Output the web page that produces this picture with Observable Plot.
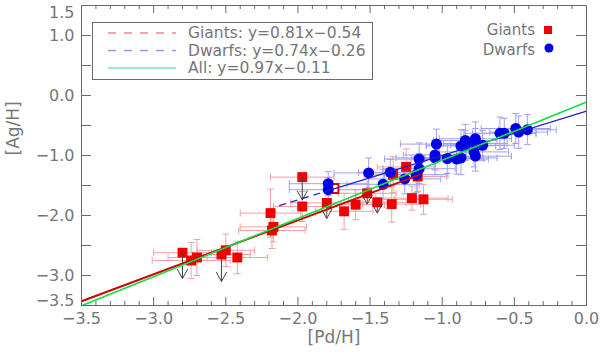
<!DOCTYPE html>
<html><head><meta charset="utf-8">
<script src="https://cdn.jsdelivr.net/npm/d3@7"></script>
<script src="https://cdn.jsdelivr.net/npm/@observablehq/plot@0.6"></script>
<style>
html,body{margin:0;padding:0;background:#fff;}
#chart{width:600px;height:354px;}
</style>
</head><body><div id="chart"></div>
<script>
// ---- Data ----
const giantX = [-1.97,-1.97,-2.19,-2.17,-2.18,-2.80,-2.74,-2.70,-2.53,-2.50,-2.42,-1.80,-1.68,-1.60,-1.52,-1.45,-1.35,-1.34,-1.25,-1.21,-1.13,-1.17];
const giantY = [-1.36,-1.85,-1.96,-2.19,-2.25,-2.62,-2.75,-2.70,-2.65,-2.58,-2.70,-1.79,-1.93,-1.82,-1.63,-1.78,-1.81,-1.32,-1.19,-1.71,-1.73,-1.35];
const giantXErr = [0.22,0.20,0.21,0.23,0.23,0.20,0.27,0.20,0.20,0.20,0.21,0.25,0.20,0.20,0.20,0.20,0.20,0.20,0.20,0.25,0.20,0.20];
const giantYErr = [0,0.25,0.40,0.25,0.30,0,0.30,0.30,0,0.27,0.27,0,0.30,0.25,0,0,0.30,0.30,0.30,0.20,0.25,0.25];
const giantUpperLimit = [0.38,0,0,0,0,0.43,0,0,0.45,0,0,0.26,0,0,0.18,0.18,0,0,0,0,0,0];

const openGiantX = [-1.75];
const openGiantY = [-1.55];

const dwarfX = [-1.79,-1.79,-1.51,-1.41,-1.36,-1.26,-1.18,-1.16,-1.16,-1.04,-1.05,-1.05,-0.965,-0.90,-0.87,-0.87,-0.84,-0.84,-0.77,-0.77,-0.78,-0.77,-0.72,-0.60,-0.57,-0.49,-0.47,-0.41];
const dwarfY = [-1.47,-1.57,-1.29,-1.48,-1.28,-1.39,-1.32,-1.22,-1.06,-0.81,-0.99,-1.04,-1.05,-1.06,-1.04,-0.84,-0.75,-0.83,-0.72,-0.80,-0.94,-1.01,-0.83,-0.63,-0.63,-0.55,-0.61,-0.57];
const dwarfXErr = [0.27,0.27,0.24,0.25,0.22,0.25,0.22,0.25,0.24,0.25,0.22,0.27,0.25,0.22,0.25,0.24,0.22,0.27,0.25,0.22,0.24,0.25,0.22,0.25,0.22,0.24,0.20,0.20];
const dwarfYErr = [0.20,0.20,0.25,0.25,0.22,0.25,0.30,0.25,0.27,0.25,0.25,0.28,0.25,0.25,0.28,0.27,0.27,0.25,0.28,0.25,0.25,0.25,0.25,0.27,0.25,0.25,0.27,0.25];

// Fit lines as drawn
const fitName = ["Giants","Dwarfs","Dwarfs","All"];
const fitSlope = [0.90, 0.74, 0.74, 0.97];
const fitIntercept = [-0.28, -0.26, -0.26, -0.11];
const fitFrom = [-3.5, -2.13, -1.79, -3.5];
const fitTo = [-1.15, -1.79, 0.0, 0.0];
const fitDashed = [false, true, false, false];

const legendLabels = ["Giants: y=0.81x\u22120.54", "Dwarfs: y=0.74x\u22120.26", "All: y=0.97x\u22120.11"];
const seriesLabels = ["Giants", "Dwarfs"];

const xTickLabels = [-3.5,-3.0,-2.5,-2.0,-1.5,-1.0,-0.5,0.0];
const yTickLabels = [1.0,0.0,-1.0,-2.0,-3.0];
const yEndLabels = [1.5,-3.5];
const yTicks = [1.0,0.5,0.0,-0.5,-1.0,-1.5,-2.0,-2.5,-3.0];
const xMinor = d3.range(-34, 0).map(i => i/10).filter(v => Math.abs(v*2 - Math.round(v*2)) > 1e-6);

// ---- Build tables ----
const giants = giantX.map((x,i) => ({x, y: giantY[i], xe: giantXErr[i], ye: giantYErr[i], lim: giantUpperLimit[i]}));
const dwarfs = dwarfX.map((x,i) => ({x, y: dwarfY[i], xe: dwarfXErr[i], ye: dwarfYErr[i]}));
const opens = openGiantX.map((x,i) => ({x, y: openGiantY[i]}));
const fits = fitName.map((n,i) => ({n, x1: fitFrom[i], x2: fitTo[i], y1: fitSlope[i]*fitFrom[i]+fitIntercept[i], y2: fitSlope[i]*fitTo[i]+fitIntercept[i], dashed: fitDashed[i]}));
const limits = giants.filter(d => d.lim > 0);
const gV = giants.filter(d => d.ye > 0);
const fmt = d3.format(".1f");

const W = 600, H = 354, mT = 5, mR = 14, mB = 49, mL = 81;
const pw = W - mL - mR, ph = H - mT - mB;
const txt = "#767676", axisCol = "#6a6a6a";
const capShape = {draw(ctx, l) { ctx.moveTo(0, 0); ctx.lineTo(0, -l); }};
const vHead = {draw(ctx) { ctx.moveTo(-5, -9); ctx.lineTo(0, 0); ctx.lineTo(5, -9); }};

function bars(data, vdata, color) {
  return [
    Plot.link(data, {x1: d => d.x - d.xe, x2: d => d.x + d.xe, y1: "y", y2: "y", stroke: color, strokeWidth: 1}),
    Plot.vector(data, {x: d => d.x - d.xe, y: "y", length: 6, rotate: 0, anchor: "middle", shape: capShape, stroke: color, strokeWidth: 1}),
    Plot.vector(data, {x: d => d.x + d.xe, y: "y", length: 6, rotate: 0, anchor: "middle", shape: capShape, stroke: color, strokeWidth: 1}),
    Plot.link(vdata, {x1: "x", x2: "x", y1: d => d.y - d.ye, y2: d => d.y + d.ye, stroke: color, strokeWidth: 1}),
    Plot.vector(vdata, {x: "x", y: d => d.y - d.ye, length: 6, rotate: 90, anchor: "middle", shape: capShape, stroke: color, strokeWidth: 1}),
    Plot.vector(vdata, {x: "x", y: d => d.y + d.ye, length: 6, rotate: 90, anchor: "middle", shape: capShape, stroke: color, strokeWidth: 1})
  ];
}

const chart = Plot.plot({
  width: W, height: H,
  marginTop: mT, marginRight: mR, marginBottom: mB, marginLeft: mL,
  style: {fontFamily: "DejaVu Sans, sans-serif", background: "#fff"},
  x: {domain: [-3.5, 0], axis: null},
  y: {domain: [-3.5, 1.5], axis: null},
  marks: [
    ...bars(giants, gV, "#f4a0a0"),
    ...bars(dwarfs, dwarfs, "#a0a0f2"),
    Plot.dot(giants, {x: "x", y: "y", symbol: "square", r: 5.6, fill: "#f20000"}),
    Plot.dot(opens, {x: "x", y: "y", symbol: "square", r: 5, fill: "#fff", stroke: "#e00000", strokeWidth: 2}),
    Plot.dot(dwarfs, {x: "x", y: "y", r: 5.5, fill: "#0000e8"}),
    // upper limits: shaft + open V head
    Plot.link(limits, {x1: "x", y1: "y", x2: "x", y2: d => d.y - d.lim, stroke: "#444", strokeWidth: 1}),
    Plot.vector(limits, {x: "x", y: d => d.y - d.lim, length: 9, rotate: 0, anchor: "start", shape: vHead, stroke: "#444", strokeWidth: 1}),
    Plot.link(fits.filter(d => d.n === "Giants"), {x1: "x1", y1: "y1", x2: "x2", y2: "y2", stroke: "#d00000", strokeWidth: 2}),
    Plot.link(fits.filter(d => d.n === "Dwarfs" && !d.dashed), {x1: "x1", y1: "y1", x2: "x2", y2: "y2", stroke: "#2020c8", strokeWidth: 1.2}),
    Plot.link(fits.filter(d => d.n === "Dwarfs" && d.dashed), {x1: "x1", y1: "y1", x2: "x2", y2: "y2", stroke: "#2020c8", strokeWidth: 1.2, strokeDasharray: "7,5"}),
    Plot.link(fits.filter(d => d.n === "All"), {x1: "x1", y1: "y1", x2: "x2", y2: "y2", stroke: "#10e040", strokeWidth: 1.6}),
    // frame and ticks (inward, IDL style)
    Plot.frame({stroke: axisCol, strokeWidth: 1}),
    Plot.tickY(yTicks, {y: d => d, insetRight: pw - 10, stroke: axisCol}),
    Plot.tickY(yTicks, {y: d => d, insetLeft: pw - 10, stroke: axisCol}),
    Plot.tickX(xTickLabels, {x: d => d, insetTop: ph - 8, stroke: axisCol}),
    Plot.tickX(xTickLabels, {x: d => d, insetBottom: ph - 8, stroke: axisCol}),
    Plot.tickX(xMinor, {x: d => d, insetTop: ph - 4, stroke: axisCol}),
    Plot.tickX(xMinor, {x: d => d, insetBottom: ph - 4, stroke: axisCol}),
    // tick labels
    Plot.text(xTickLabels, {x: d => d, frameAnchor: "bottom", dy: 18, text: d => fmt(d), fontSize: 16, fill: txt}),
    Plot.text(yTickLabels, {y: d => d, frameAnchor: "left", dx: -7, textAnchor: "end", text: d => fmt(d), fontSize: 16, fill: txt}),
    Plot.text(yEndLabels.slice(0,1), {y: d => d, frameAnchor: "left", dx: -7, dy: 7, textAnchor: "end", text: d => fmt(d), fontSize: 16, fill: txt}),
    Plot.text(yEndLabels.slice(1), {y: d => d, frameAnchor: "left", dx: -7, dy: -5, textAnchor: "end", text: d => fmt(d), fontSize: 16, fill: txt}),
    // axis titles
    Plot.text(["[Pd/H]"], {frameAnchor: "bottom", dy: 37, text: d => d, fontSize: 17, fill: txt}),
    Plot.text(["[Ag/H]"], {frameAnchor: "left", dx: -68, rotate: -90, text: d => d, fontSize: 17, fill: txt})
  ]
});
document.getElementById("chart").appendChild(chart);

// ---- Legends (layout in pixels) ----
const svg = d3.select(chart);
const lg = svg.append("g").attr("font-family", "DejaVu Sans, sans-serif").attr("font-size", 15.5).attr("text-anchor", "start");
lg.append("rect").attr("x", 92.5).attr("y", 22.5).attr("width", 280).attr("height", 57).attr("fill", "#fff").attr("stroke", axisCol);
const legStyles = [
  {stroke: "#f28c8c", dash: "8,8"},
  {stroke: "#9a9ae6", dash: "8,8"},
  {stroke: "#6ee6b4", dash: null}
];
legendLabels.forEach((t, i) => {
  const yy = 33 + i * 17.5;
  const ln = lg.append("line").attr("x1", 108).attr("x2", 176).attr("y1", yy).attr("y2", yy)
    .attr("stroke", legStyles[i].stroke).attr("stroke-width", 1.5);
  if (legStyles[i].dash) ln.attr("stroke-dasharray", legStyles[i].dash);
  lg.append("text").attr("x", 188).attr("y", yy).attr("dy", "0.35em").attr("text-anchor", "start").attr("fill", txt).text(t);
});
const rg = svg.append("g").attr("font-family", "DejaVu Sans, sans-serif").attr("font-size", 15);
seriesLabels.forEach((t, i) => {
  const yy = 30 + i * 20;
  rg.append("text").attr("x", 535).attr("y", yy).attr("dy", "0.35em").attr("text-anchor", "end").attr("fill", txt).text(t);
});
rg.append("rect").attr("x", 544).attr("y", 26).attr("width", 8).attr("height", 8).attr("fill", "#f20000");
rg.append("circle").attr("cx", 549).attr("cy", 48).attr("r", 4.5).attr("fill", "#0000e8");
</script>
</body></html>
